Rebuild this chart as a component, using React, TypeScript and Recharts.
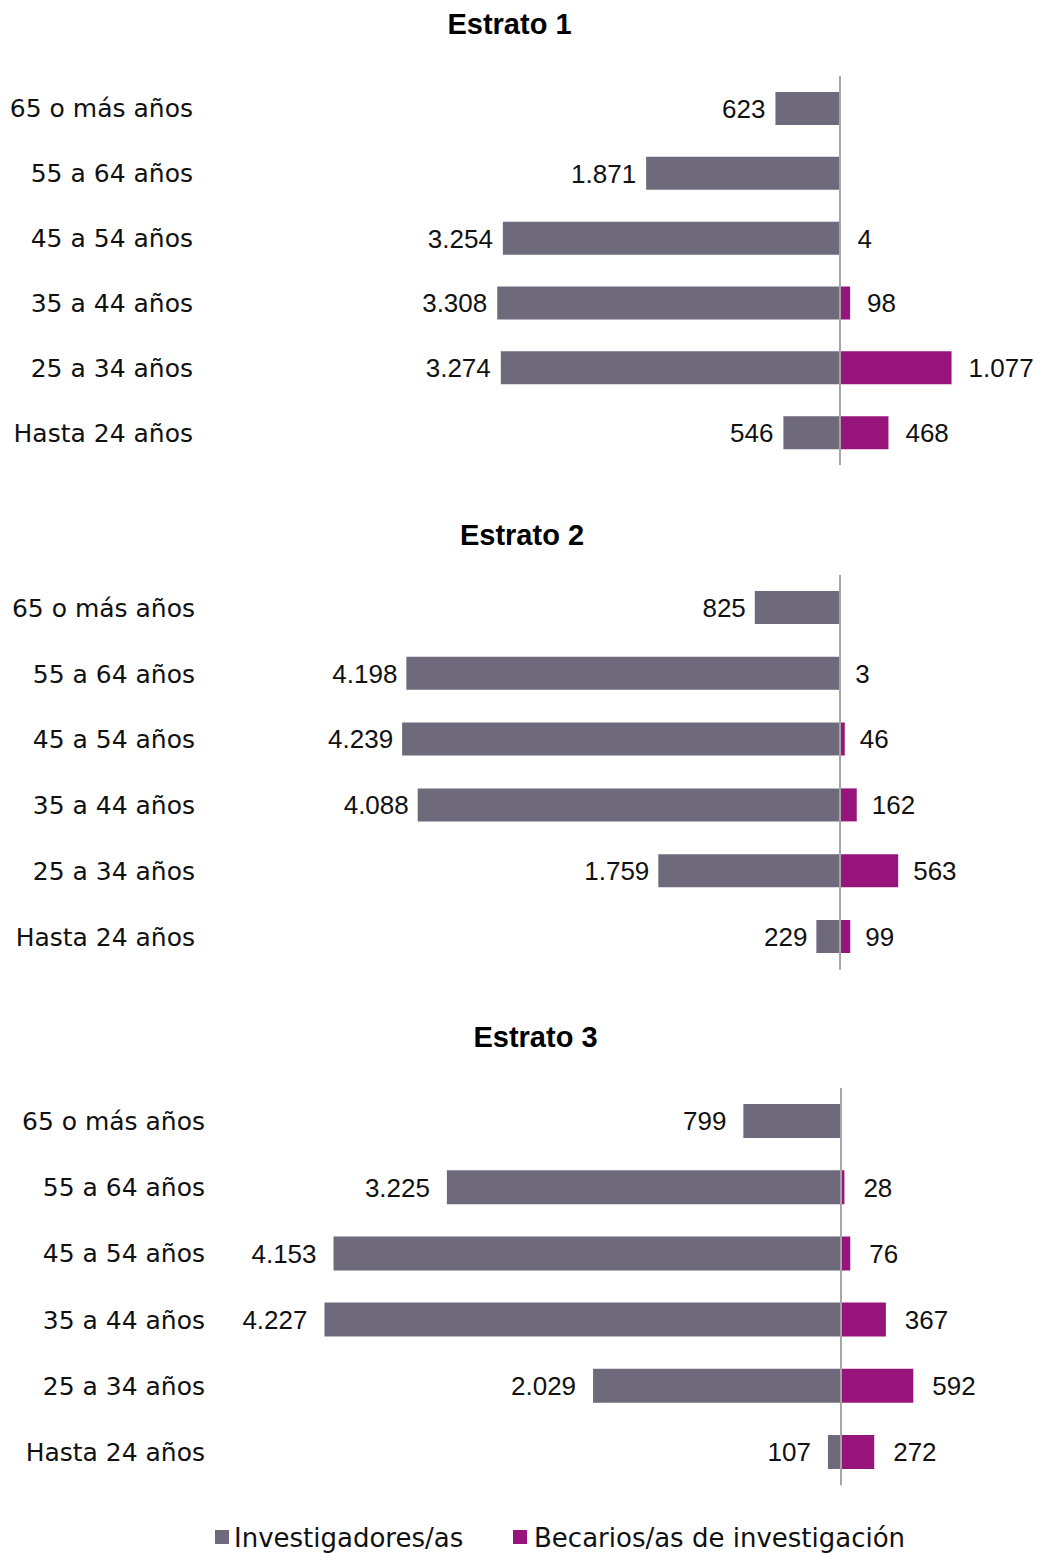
import React from "react";
import { BarChart, Bar, XAxis, YAxis, ReferenceLine, LabelList } from "recharts";

const categories = [
  "65 o más años",
  "55 a 64 años",
  "45 a 54 años",
  "35 a 44 años",
  "25 a 34 años",
  "Hasta 24 años",
];

const titles = ["Estrato 1", "Estrato 2", "Estrato 3"];

const investigadores1 = [623, 1871, 3254, 3308, 3274, 546];
const becarios1 = [null, null, 4, 98, 1077, 468];

const investigadores2 = [825, 4198, 4239, 4088, 1759, 229];
const becarios2 = [null, 3, 46, 162, 563, 99];

const investigadores3 = [799, 3225, 4153, 4227, 2029, 107];
const becarios3 = [null, 28, 76, 367, 592, 272];

const seriesNames = ["Investigadores/as", "Becarios/as de investigación"];

const GRAY = "#6E6A7B";
const PURPLE = "#97157A";
const AXIS = "#A6A6A6";
const CAT_FONT = "'DejaVu Sans', sans-serif";
const NUM_FONT = "'Liberation Sans', Arial, sans-serif";

const fmt = (n: number) => String(n).replace(/\B(?=(\d{3})+(?!\d))/g, ".");

type PanelCfg = {
  title: string;
  inv: number[];
  bec: (number | null)[];
  top: number;
  height: number;
  domain: [number, number];
  plotLeft: number;
  plotRight: number;
  labelRight: number;
  barSize: number;
  leftGap: number;
  rightGap: number;
};

const W = 1043;
const M = 10;

function Panel({ cfg }: { cfg: PanelCfg }) {
  const data = categories.map((c, i) => ({
    cat: c,
    inv: -cfg.inv[i],
    bec: cfg.bec[i],
    invLabel: fmt(cfg.inv[i]),
    becLabel: cfg.bec[i] == null ? "" : fmt(cfg.bec[i] as number),
  }));

  const leftLabel = (p: any) => {
    const { x, y, width, height, value } = p;
    if (value == null || value === "") return null;
    const l = Math.min(Number(x), Number(x) + Number(width));
    return (
      <text
        x={l - cfg.leftGap}
        y={Number(y) + Number(height) / 2}
        dy="0.36em"
        textAnchor="end"
        fontFamily={NUM_FONT}
        fontSize={26}
        fill="#111"
      >
        {value}
      </text>
    );
  };
  const rightLabel = (p: any) => {
    const { x, y, width, height, value } = p;
    if (value == null || value === "") return null;
    const r = Math.max(Number(x), Number(x) + Number(width));
    return (
      <text
        x={r + cfg.rightGap}
        y={Number(y) + Number(height) / 2}
        dy="0.36em"
        textAnchor="start"
        fontFamily={NUM_FONT}
        fontSize={26}
        fill="#111"
      >
        {value}
      </text>
    );
  };

  const tick = (p: any) => (
    <text
      x={cfg.labelRight}
      y={p.y}
      dy="0.36em"
      textAnchor="end"
      fontFamily={CAT_FONT}
      fontSize={25}
      fill="#111"
    >
      {p.payload.value}
    </text>
  );

  return (
    <div style={{ position: "absolute", left: 0, top: cfg.top - M }}>
      <BarChart
        width={W}
        height={cfg.height + 2 * M}
        data={data}
        layout="vertical"
        stackOffset="sign"
        margin={{ top: M, bottom: M, left: 0, right: W - cfg.plotRight }}
      >
        <XAxis type="number" domain={cfg.domain} allowDataOverflow hide />
        <YAxis
          type="category"
          dataKey="cat"
          width={cfg.plotLeft}
          tickLine={false}
          axisLine={false}
          tick={tick}
          interval={0}
        />
        <Bar dataKey="inv" stackId="s" fill={GRAY} barSize={cfg.barSize} isAnimationActive={false}>
          <LabelList dataKey="invLabel" content={leftLabel} />
        </Bar>
        <Bar dataKey="bec" stackId="s" fill={PURPLE} barSize={cfg.barSize} isAnimationActive={false}>
          <LabelList dataKey="becLabel" content={rightLabel} />
        </Bar>
        <ReferenceLine x={0} stroke={AXIS} strokeWidth={2} />
      </BarChart>
    </div>
  );
}

const panels: PanelCfg[] = [
  {
    title: titles[0],
    inv: investigadores1,
    bec: becarios1,
    top: 75.5,
    height: 389,
    domain: [-6000, 1900],
    plotLeft: 218.4,
    plotRight: 1036.8,
    labelRight: 193,
    barSize: 33,
    leftGap: 10,
    rightGap: 17,
  },
  {
    title: titles[1],
    inv: investigadores2,
    bec: becarios2,
    top: 575.1,
    height: 394.8,
    domain: [-6000, 1900],
    plotLeft: 220.2,
    plotRight: 1036.3,
    labelRight: 195,
    barSize: 33,
    leftGap: 9,
    rightGap: 15,
  },
  {
    title: titles[2],
    inv: investigadores3,
    bec: becarios3,
    top: 1087.9,
    height: 397.2,
    domain: [-5000, 1500],
    plotLeft: 230,
    plotRight: 1024.3,
    labelRight: 205,
    barSize: 34,
    leftGap: 17,
    rightGap: 19,
  },
];

const titlePos = [
  { x: 509.5, y: 34 },
  { x: 522, y: 545 },
  { x: 535.5, y: 1047 },
];

export default function App() {
  return (
    <div
      style={{
        position: "absolute",
        left: 0,
        top: 0,
        width: W,
        height: 1553,
        background: "#fff",
        overflow: "hidden",
      }}
    >
      {panels.map((p, i) => (
        <Panel key={i} cfg={p} />
      ))}
      <svg width={W} height={1553} style={{ position: "absolute", left: 0, top: 0, pointerEvents: "none" }}>
        {panels.map((p, i) => (
          <text
            key={i}
            x={titlePos[i].x}
            y={titlePos[i].y}
            textAnchor="middle"
            fontFamily={NUM_FONT}
            fontWeight="bold"
            fontSize={29}
            fill="#000"
          >
            {p.title}
          </text>
        ))}
        <rect x={215} y={1530} width={14} height={14} fill={GRAY} />
        <text x={234} y={1547} fontFamily={CAT_FONT} fontSize={26} fill="#111">
          {seriesNames[0]}
        </text>
        <rect x={513} y={1530} width={14} height={14} fill={PURPLE} />
        <text x={534} y={1547} fontFamily={CAT_FONT} fontSize={26} fill="#111">
          {seriesNames[1]}
        </text>
      </svg>
    </div>
  );
}
